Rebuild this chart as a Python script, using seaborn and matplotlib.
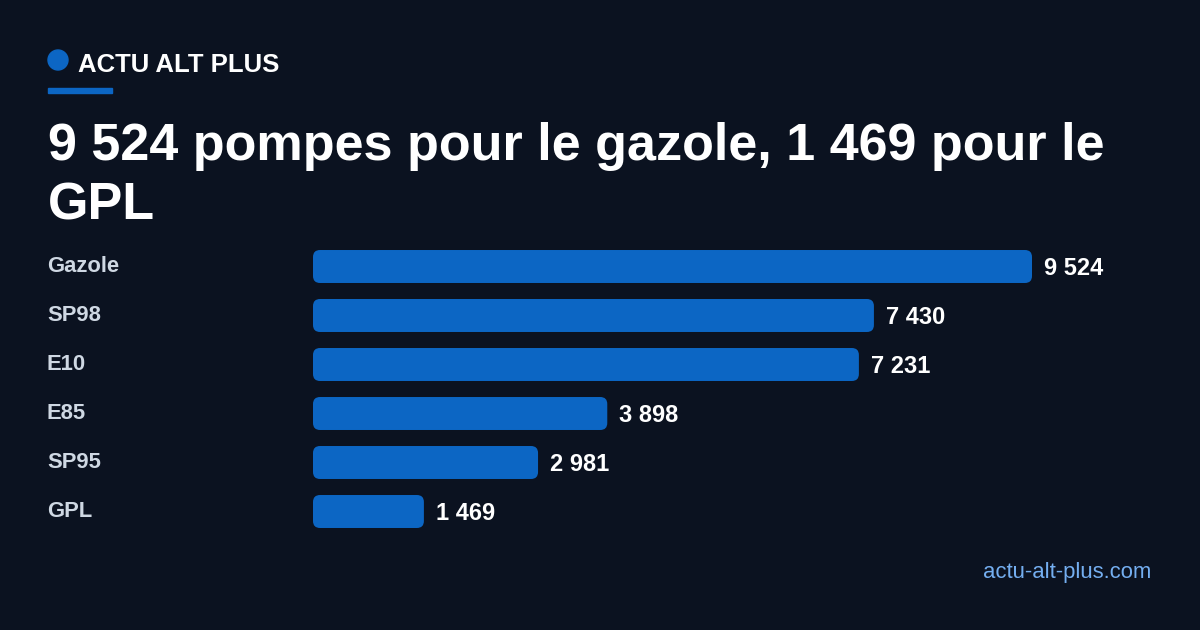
import matplotlib
matplotlib.use("Agg")
import matplotlib.pyplot as plt
from matplotlib.patches import FancyBboxPatch, Ellipse, Rectangle
import seaborn as sns

categories = ["Gazole", "SP98", "E10", "E85", "SP95", "GPL"]
values = [9524, 7430, 7231, 3898, 2981, 1469]

title_lines = ["9 524 pompes pour le gazole, 1 469 pour le", "GPL"]
brand = "ACTU ALT PLUS"
footer = "actu-alt-plus.com"

bg = "#0b1220"
blue = "#0c66c4"
label_col = "#cfd8e3"
footer_col = "#74aef0"

sns.set_style("white")
plt.rcParams["font.family"] = ["Liberation Sans", "DejaVu Sans"]

W, H = 1200, 630
fig = plt.figure(figsize=(12, 6.3), dpi=100, facecolor=bg)

# header
fig.patches.append(Ellipse((58 / W, 1 - 60 / H), 20 / W, 20 / H,
                           transform=fig.transFigure, color=blue))
fig.text(78 / W, 1 - 72 / H, brand, color="white", fontsize=18.5,
         fontweight="bold", va="baseline", ha="left")
fig.patches.append(Rectangle((48 / W, 1 - 93 / H), 64 / W, 5 / H,
                             transform=fig.transFigure, color=blue))

# title
fig.text(48 / W, 1 - 160 / H, title_lines[0], color="white", fontsize=37.5,
         fontweight="bold", va="baseline", ha="left")
fig.text(48 / W, 1 - 220 / H, title_lines[1], color="white", fontsize=37.5,
         fontweight="bold", va="baseline", ha="left")

# bars
ax = fig.add_axes([313 / W, 1 - 536 / H, (1152 - 313) / W, 294 / H])
ax.set_facecolor(bg)
sns.barplot(x=values, y=categories, orient="h", color=blue, saturation=1,
            width=0.673, ax=ax)
ax.set_xlim(0, max(values) * 839 / 719)
ax.set_ylim(len(categories) - 0.5, -0.5)
for s in ax.spines.values():
    s.set_visible(False)
ax.set_xticks([])
ax.set_yticks([])
ax.set_xlabel("")
ax.set_ylabel("")

px_x = abs(ax.transData.transform((1, 0))[0] - ax.transData.transform((0, 0))[0])
px_y = abs(ax.transData.transform((0, 1))[1] - ax.transData.transform((0, 0))[1])
r = 7
for p in list(ax.patches):
    x, y, w, h = p.get_x(), p.get_y(), p.get_width(), p.get_height()
    p.remove()
    ax.add_patch(FancyBboxPatch((x, y), w, h,
                                boxstyle=f"round,pad=0,rounding_size={r / px_x}",
                                mutation_aspect=px_x / px_y,
                                facecolor=blue, edgecolor="none"))

for i, (cat, v) in enumerate(zip(categories, values)):
    ax.annotate(f"{v:,}".replace(",", " "), (v, i), xytext=(12, -2),
                textcoords="offset pixels", color="white", fontsize=17,
                fontweight="bold", va="center", ha="left")
    ax.annotate(cat, (47 / W, i), xycoords=("figure fraction", "data"),
                color=label_col, fontsize=15.8, fontweight="bold",
                va="center", ha="left", annotation_clip=False)

fig.text(1151 / W, 1 - 578 / H, footer, color=footer_col, fontsize=15.9,
         va="baseline", ha="right")

fig.savefig("out.png", dpi=100, facecolor=bg)
